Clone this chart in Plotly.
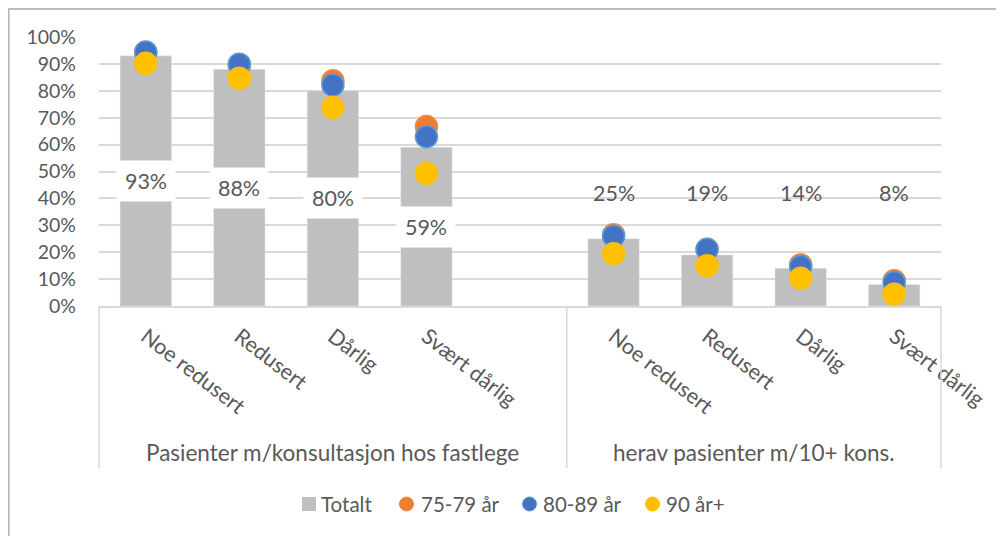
import plotly.graph_objects as go

groups = ["Pasienter m/konsultasjon hos fastlege", "herav pasienter m/10+ kons."]
categories = ["Noe redusert", "Redusert", "Dårlig", "Svært dårlig"]

totalt = [[0.93, 0.88, 0.80, 0.59], [0.25, 0.19, 0.14, 0.08]]
age_75_79 = [[0.942, 0.895, 0.837, 0.667], [0.265, 0.21, 0.153, 0.094]]
age_80_89 = [[0.944, 0.899, 0.822, 0.629], [0.259, 0.211, 0.147, 0.087]]
age_90 = [[0.902, 0.847, 0.738, 0.493], [0.194, 0.150, 0.103, 0.044]]

tick_values = [0, 0.1, 0.2, 0.3, 0.4, 0.5, 0.6, 0.7, 0.8, 0.9, 1.0]

FONT = "Lato"
TXT = "#595959"
GRID = "#D9D9D9"
BAR = "#BFBFBF"

# plot area geometry (pixels, in figure coordinates)
L, T, W, H = 91, 29, 842, 269
FIG_W, FIG_H = 1004, 536

def px(sx):  # screen x -> paper x (page has 8px body margin)
    return (sx - 8 - L) / W

def py(sy):  # screen y -> paper y
    return (T + H - (sy - 8)) / H

slots_per_group = len(categories) + 1
n_slots = slots_per_group * len(groups) - 1

def positions():
    xs = []
    for g in range(len(groups)):
        for c in range(len(categories)):
            xs.append(g * slots_per_group + c)
    return xs

def flat(arr):
    return [v for row in arr for v in row]

xs = positions()
ticktext = categories * len(groups)

series = [("75-79 år", age_75_79, "#ED7D31", "#F08A44"),
          ("80-89 år", age_80_89, "#4472C4", "#5B9BD5"),
          ("90 år+", age_90, "#FFC000", "#FFC000")]

fig = go.Figure()
fig.add_trace(go.Bar(x=xs, y=flat(totalt), name="Totalt", marker_color=BAR,
                     width=0.55, showlegend=False))
for name, vals, col, edge in series:
    fig.add_trace(go.Scatter(x=xs, y=flat(vals), name=name, mode="markers",
                             showlegend=False,
                             marker=dict(size=22, color=col,
                                         line=dict(color=edge, width=1.5))))

annotations = []
# data labels
for g in range(len(groups)):
    for c in range(len(categories)):
        v = totalt[g][c]
        x = g * slots_per_group + c
        if g == 0:
            annotations.append(dict(x=x, y=v / 2, xref="x", yref="y",
                                    text=f"{round(v*100)}%", showarrow=False,
                                    bgcolor="white", width=56, height=38,
                                    font=dict(family=FONT, size=21.5, color=TXT)))
        else:
            annotations.append(dict(x=x, y=0.42, xref="x", yref="y",
                                    text=f"{round(v*100)}%", showarrow=False,
                                    font=dict(family=FONT, size=21.5, color=TXT)))

# group labels
for g, name in enumerate(groups):
    x0 = g * slots_per_group - 0.5
    x1 = min(x0 + slots_per_group, n_slots - 0.5)
    annotations.append(dict(x=((x0 + x1) / 2 + 0.5) / n_slots, y=-0.545,
                            xref="paper", yref="paper", text=name, showarrow=False,
                            yanchor="middle", xanchor="center",
                            font=dict(family=FONT, size=22.5, color=TXT)))

shapes = []
# category-axis box lines
for b in [0, slots_per_group, n_slots]:
    p = b / n_slots
    shapes.append(dict(type="line", xref="paper", yref="paper", x0=p, x1=p,
                       y0=0, y1=py(468), line=dict(color=GRID, width=1.5)))
# outer chart border (left and top edges visible)
shapes.append(dict(type="rect", xref="paper", yref="paper",
                   x0=px(8.8), x1=px(1030), y0=py(560), y1=py(9),
                   line=dict(color="#A6A6A6", width=1.3)))

# custom legend
legend_items = [("Totalt", BAR, BAR, "square", 309, 320),
                ("75-79 år", "#ED7D31", "#F08A44", "circle", 406.5, 420),
                ("80-89 år", "#4472C4", "#5B9BD5", "circle", 529.5, 542),
                ("90 år+", "#FFC000", "#FFC000", "circle", 652.5, 665)]
leg_y = 504
for name, col, edge, sym, cx, tx in legend_items:
    shapes.append(dict(type="rect" if sym == "square" else "circle",
                       xref="paper", yref="paper",
                       xsizemode="pixel", ysizemode="pixel",
                       xanchor=px(cx), yanchor=py(leg_y),
                       x0=-7, x1=7, y0=-7, y1=7,
                       fillcolor=col, line=dict(color=edge, width=1 if sym == "circle" else 0)))
    annotations.append(dict(x=px(tx), y=py(leg_y), xref="paper", yref="paper",
                            text=name, showarrow=False, xanchor="left",
                            yanchor="middle", borderpad=0,
                            font=dict(family=FONT, size=20.5, color=TXT)))

fig.update_layout(
    width=FIG_W, height=FIG_H,
    margin=dict(l=L, r=FIG_W - L - W, t=T, b=FIG_H - T - H),
    paper_bgcolor="white", plot_bgcolor="white",
    font=dict(family=FONT, color=TXT, size=19.5),
    barmode="overlay",
    showlegend=False,
    annotations=annotations,
    shapes=shapes,
)
fig.update_xaxes(range=[-0.5, n_slots - 0.5], tickmode="array", tickvals=xs,
                 ticktext=ticktext, tickangle=37.5, showgrid=False,
                 showline=True, linecolor=GRID, linewidth=1.5, zeroline=False,
                 tickfont=dict(family=FONT, size=21.5, color=TXT), ticks="",
                 ticklabelstandoff=8)
fig.update_yaxes(range=[0, 1], tickvals=tick_values, tickformat=".0%",
                 showgrid=True, gridcolor=GRID, gridwidth=1.5, zeroline=False,
                 showline=False, ticks="", ticklabelstandoff=22,
                 tickfont=dict(family=FONT, size=19.5, color=TXT))

fig.write_html("out.html")
